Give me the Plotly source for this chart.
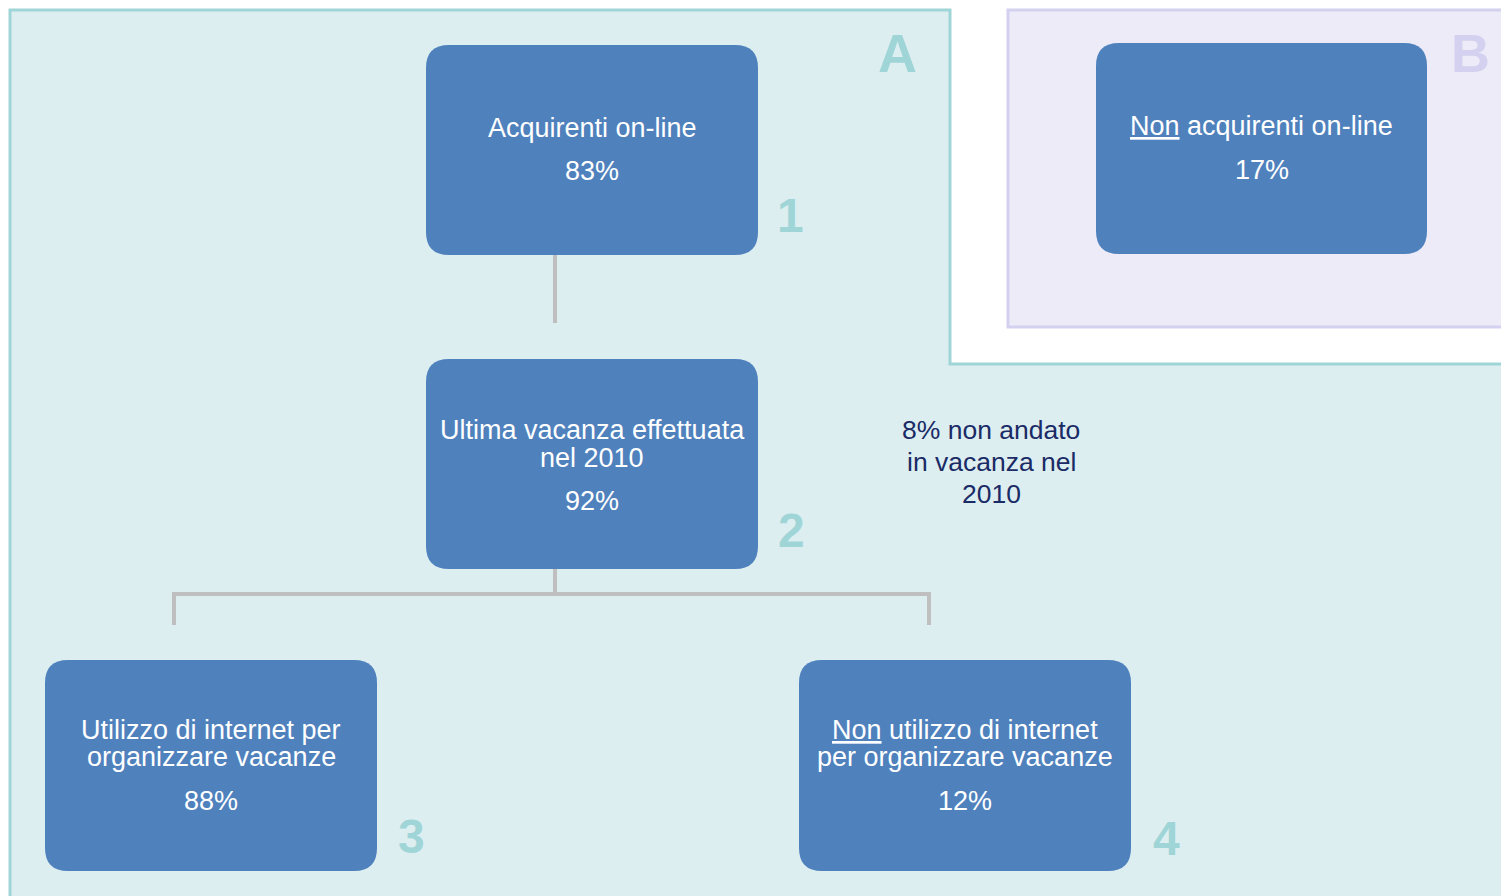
import plotly.graph_objects as go

# Diagram content
node_titles = [
    ["Acquirenti on-line"],
    ["Ultima vacanza effettuata", "nel 2010"],
    ["Utilizzo di internet per", "organizzare vacanze"],
    ["<u>Non</u> utilizzo di internet", "per organizzare vacanze"],
    ["<u>Non</u> acquirenti on-line"],
]
node_values = ["83%", "92%", "88%", "12%", "17%"]
node_numbers = ["1", "2", "3", "4", ""]
side_note = ["8% non andato", "in vacanza nel", "2010"]
group_letters = ["A", "B"]

# Layout geometry (page pixels, y down)
W, H = 1501, 896
boxes = [
    (426, 45, 758, 255),
    (426, 359, 758, 569),
    (45, 660, 377, 871),
    (799, 660, 1131, 871),
    (1096, 43, 1427, 254),
]
title_y = [[128], [430, 458], [730, 757], [730, 757], [126]]
value_y = [171, 501, 801, 801, 170]
number_pos = [(790, 215), (791, 530), (411, 836), (1166, 838)]
letter_pos = [(897, 53), (1470, 53)]
note_pos = (991, [430, 462, 494])

BOX = "#4f81bd"
TEAL = "#a0d5d8"
TEAL_FILL = "#ddeef1"
LAV = "#d3d1ef"
LAV_FILL = "#ecebf7"
GREY = "#bfbfbf"
FONT = "Liberation Sans, Arial, sans-serif"


def rounded_rect(x0, y0, x1, y1, r):
    return (f"M {x0 + r},{y0} L {x1 - r},{y0} Q {x1},{y0} {x1},{y0 + r} "
            f"L {x1},{y1 - r} Q {x1},{y1} {x1 - r},{y1} "
            f"L {x0 + r},{y1} Q {x0},{y1} {x0},{y1 - r} "
            f"L {x0},{y0 + r} Q {x0},{y0} {x0 + r},{y0} Z")


shapes = []
# group A region (L-shaped)
shapes.append(dict(type="path",
                   path=f"M 10,10 L 950,10 L 950,364 L {W + 5},364 L {W + 5},{H + 5} L 10,{H + 5} Z",
                   fillcolor=TEAL_FILL, line=dict(color=TEAL, width=3), layer="below"))
# group B region
shapes.append(dict(type="rect", x0=1008, y0=10, x1=W + 5, y1=327,
                   fillcolor=LAV_FILL, line=dict(color=LAV, width=3), layer="below"))

# connectors
conn = dict(color=GREY, width=4)
shapes.append(dict(type="line", x0=555, y0=255, x1=555, y1=323, line=conn))
shapes.append(dict(type="line", x0=555, y0=569, x1=555, y1=594, line=conn))
shapes.append(dict(type="path", path="M 174,625 L 174,594 L 929,594 L 929,625",
                   line=conn))

for (x0, y0, x1, y1) in boxes:
    shapes.append(dict(type="path", path=rounded_rect(x0, y0, x1, y1, 23),
                       fillcolor=BOX, line=dict(width=0)))

annotations = []


def label(x, y, text, size, color, bold=False):
    annotations.append(dict(
        x=x, y=y, xref="x", yref="y", text=f"<b>{text}</b>" if bold else text,
        showarrow=False, xanchor="center", yanchor="middle",
        font=dict(family=FONT, size=size, color=color)))


for i, (x0, y0, x1, y1) in enumerate(boxes):
    cx = (x0 + x1) / 2
    for line, ly in zip(node_titles[i], title_y[i]):
        label(cx, ly, line, 27, "white")
    label(cx, value_y[i], node_values[i], 27, "white")

for num, (nx, ny) in zip(node_numbers, number_pos):
    label(nx, ny, num, 48, TEAL, bold=True)

label(letter_pos[0][0], letter_pos[0][1], group_letters[0], 54, TEAL, bold=True)
label(letter_pos[1][0], letter_pos[1][1], group_letters[1], 54, LAV, bold=True)

for line, ly in zip(side_note, note_pos[1]):
    label(note_pos[0], ly, line, 26.5, "#1a2b66")

fig = go.Figure()
fig.update_layout(
    width=W, height=H,
    margin=dict(l=0, r=0, t=0, b=0),
    paper_bgcolor="white", plot_bgcolor="white",
    xaxis=dict(range=[0, W], visible=False, fixedrange=True),
    yaxis=dict(range=[H, 0], visible=False, fixedrange=True),
    shapes=shapes, annotations=annotations, showlegend=False,
)
fig.write_html("out.html", config={"displayModeBar": False})
